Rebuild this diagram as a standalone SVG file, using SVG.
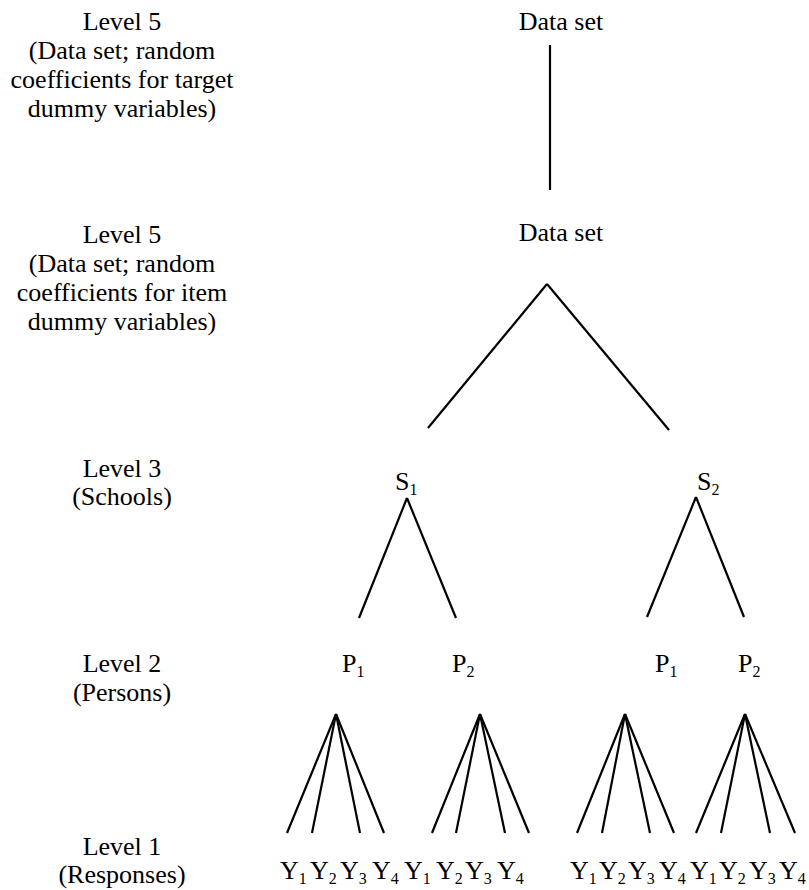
<svg xmlns="http://www.w3.org/2000/svg" width="809" height="890" viewBox="0 0 809 890">
<style>
text{font-family:"Liberation Serif","Times New Roman",serif;font-size:26px;fill:#000}
.lab{text-anchor:middle}
.sub{font-size:16px}
.c line{stroke:#000;stroke-width:2.2;stroke-linecap:butt}
</style>
<rect width="809" height="890" fill="#fff"/>
<g id="levels">
<text class="lab" x="122" y="30">Level 5</text>
<text class="lab" x="122" y="59">(Data set; random</text>
<text class="lab" x="122" y="88">coefficients for target</text>
<text class="lab" x="122" y="117">dummy variables)</text>
<text class="lab" x="122" y="243">Level 5</text>
<text class="lab" x="122" y="272">(Data set; random</text>
<text class="lab" x="122" y="301">coefficients for item</text>
<text class="lab" x="122" y="330">dummy variables)</text>
<text class="lab" x="122" y="477">Level 3</text>
<text class="lab" x="122" y="505">(Schools)</text>
<text class="lab" x="122" y="672">Level 2</text>
<text class="lab" x="122" y="701">(Persons)</text>
<text class="lab" x="122" y="855">Level 1</text>
<text class="lab" x="122" y="883">(Responses)</text>
</g>
<g id="dataset-target"><text class="lab" x="561" y="30">Data set</text></g>
<g id="dataset-item"><text class="lab" x="561" y="241">Data set</text></g>
<g id="S1"><text x="395" y="490">S<tspan class="sub" dy="5">1</tspan></text></g>
<g id="S2"><text x="697" y="490">S<tspan class="sub" dy="5">2</tspan></text></g>
<g id="S1P1"><text x="342" y="672">P<tspan class="sub" dy="5">1</tspan></text></g>
<g id="S1P2"><text x="452" y="672">P<tspan class="sub" dy="5">2</tspan></text></g>
<g id="S2P1"><text x="655" y="672">P<tspan class="sub" dy="5">1</tspan></text></g>
<g id="S2P2"><text x="738" y="672">P<tspan class="sub" dy="5">2</tspan></text></g>
<g id="responses">
<text x="280" y="879">Y<tspan class="sub" dy="5">1</tspan></text>
<text x="310" y="879">Y<tspan class="sub" dy="5">2</tspan></text>
<text x="340" y="879">Y<tspan class="sub" dy="5">3</tspan></text>
<text x="372" y="879">Y<tspan class="sub" dy="5">4</tspan></text>
<text x="404" y="879">Y<tspan class="sub" dy="5">1</tspan></text>
<text x="436" y="879">Y<tspan class="sub" dy="5">2</tspan></text>
<text x="465" y="879">Y<tspan class="sub" dy="5">3</tspan></text>
<text x="497" y="879">Y<tspan class="sub" dy="5">4</tspan></text>
<text x="570" y="879">Y<tspan class="sub" dy="5">1</tspan></text>
<text x="599" y="879">Y<tspan class="sub" dy="5">2</tspan></text>
<text x="628" y="879">Y<tspan class="sub" dy="5">3</tspan></text>
<text x="659" y="879">Y<tspan class="sub" dy="5">4</tspan></text>
<text x="690" y="879">Y<tspan class="sub" dy="5">1</tspan></text>
<text x="719" y="879">Y<tspan class="sub" dy="5">2</tspan></text>
<text x="749" y="879">Y<tspan class="sub" dy="5">3</tspan></text>
<text x="779" y="879">Y<tspan class="sub" dy="5">4</tspan></text>
</g>
<g id="connectors" class="c">
<line x1="550" y1="45" x2="550" y2="190"/>
<line x1="547" y1="284" x2="428" y2="428"/>
<line x1="547" y1="284" x2="669" y2="430"/>
<line x1="407" y1="498" x2="359" y2="618"/>
<line x1="407" y1="498" x2="456" y2="618"/>
<line x1="696" y1="497" x2="647" y2="617"/>
<line x1="696" y1="497" x2="744" y2="617"/>
<line x1="336" y1="714" x2="287" y2="833"/>
<line x1="336" y1="714" x2="312" y2="833"/>
<line x1="336" y1="714" x2="360" y2="833"/>
<line x1="336" y1="714" x2="384" y2="833"/>
<line x1="480" y1="714" x2="432" y2="833"/>
<line x1="480" y1="714" x2="456" y2="833"/>
<line x1="480" y1="714" x2="505" y2="833"/>
<line x1="480" y1="714" x2="529" y2="833"/>
<line x1="625" y1="714" x2="577" y2="833"/>
<line x1="625" y1="714" x2="602" y2="833"/>
<line x1="625" y1="714" x2="650" y2="833"/>
<line x1="625" y1="714" x2="674" y2="833"/>
<line x1="745" y1="714" x2="696" y2="833"/>
<line x1="745" y1="714" x2="721" y2="833"/>
<line x1="745" y1="714" x2="770" y2="833"/>
<line x1="745" y1="714" x2="795" y2="833"/>
</g>
</svg>
